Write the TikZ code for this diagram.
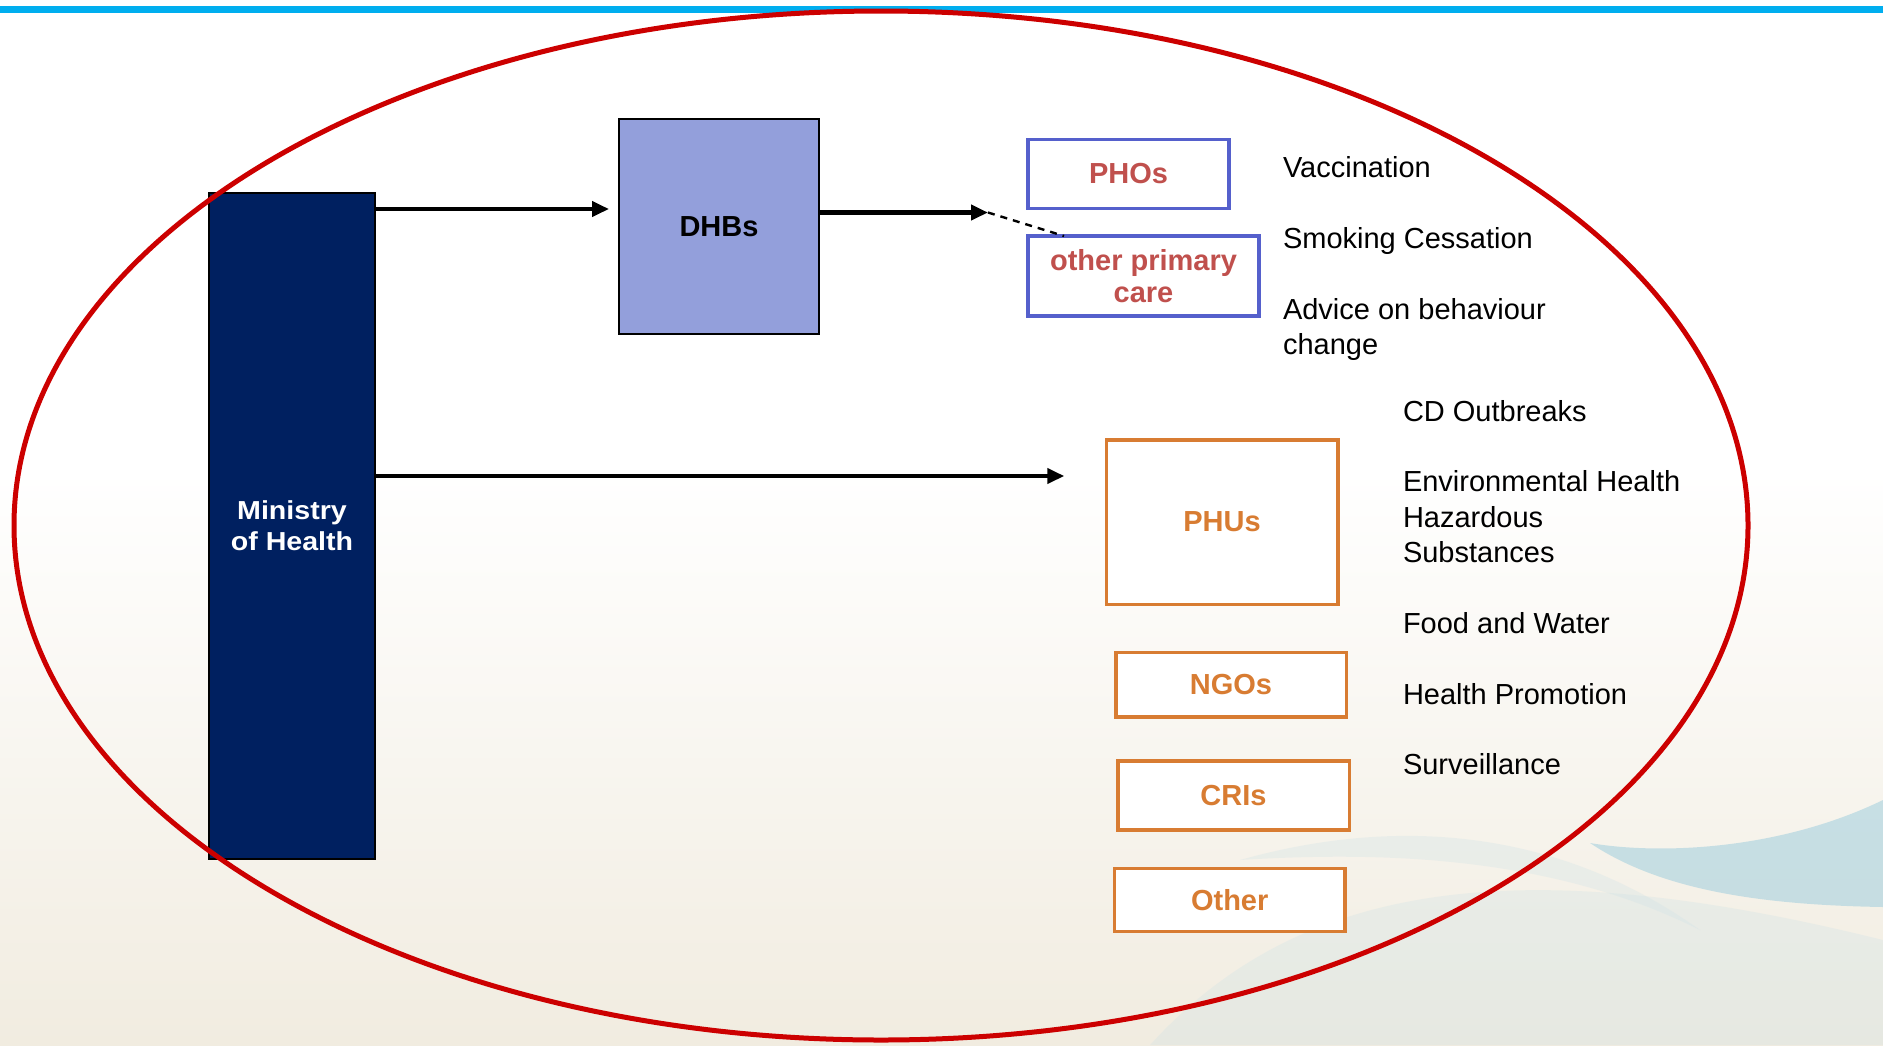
\documentclass[tikz,border=0pt]{standalone}
\usepackage{fontspec}
\setmainfont{Liberation Sans}
\newfontfamily\mohfont{Liberation Sans}[FakeStretch=1.1]
\usetikzlibrary{arrows.meta}
\definecolor{topblue}{RGB}{0,174,239}
\definecolor{ellred}{RGB}{204,0,0}
\definecolor{mohblue}{RGB}{0,32,96}
\definecolor{dhbfill}{RGB}{147,159,219}
\definecolor{phoblue}{RGB}{85,96,204}
\definecolor{phored}{RGB}{192,80,77}
\definecolor{orangeb}{RGB}{216,124,50}
\definecolor{beige}{RGB}{241,236,224}
\definecolor{wave}{RGB}{160,206,222}
\definecolor{wavefaint}{RGB}{206,226,230}
\begin{document}
\begin{tikzpicture}[x=0.5pt,y=-0.5pt,
  every node/.style={inner sep=0pt, outer sep=0pt},
  labeltext/.style={anchor=base west, align=left, font=\fontsize{14.5pt}{17.68pt}\selectfont, text=black},
  boxlabel/.style={font=\fontsize{14.5pt}{16pt}\selectfont\bfseries, align=center},
  phobox/.style={boxlabel, draw=phoblue, line width=1.6pt, fill=white, text=phored},
  orbox/.style={boxlabel, draw=orangeb, line width=1.75pt, fill=white, text=orangeb},
  arr/.style={line width=2pt, -{Triangle[length=8.5pt,width=7.5pt]}},
]
\useasboundingbox (0,0) rectangle (1883,1045);
% background
\fill[white] (0,0) rectangle (1883,1045);
\shade[top color=white, bottom color=beige] (0,470) rectangle (1883,1045);
\fill[wavefaint, opacity=0.3] (1150,1045) .. controls (1300,880) and (1520,850) .. (1883,940) -- (1883,1045) -- cycle;
\fill[wavefaint, opacity=0.3] (1240,860) .. controls (1400,815) and (1560,830) .. (1700,930) .. controls (1560,860) and (1400,850) .. cycle;
\fill[wave, opacity=0.55] (1590,843) .. controls (1660,855) and (1780,850) .. (1883,800) -- (1883,907) .. controls (1760,905) and (1660,890) .. cycle;
% top line
\fill[topblue] (0,6) rectangle (1883,13);

% boxes
\node[draw=black, line width=0.75pt, fill=mohblue, text=white, align=center,
      font=\mohfont\bfseries\fontsize{13pt}{15.5pt}\selectfont,
      minimum width=83pt, minimum height=333pt] (moh) at (292,526) {Ministry\\of Health};
\node[boxlabel, draw=black, line width=1pt, fill=dhbfill, text=black,
      minimum width=100pt, minimum height=107.5pt] (dhb) at (719,226.5) {DHBs};
\node[phobox, minimum width=100.5pt, minimum height=34.5pt] (pho) at (1128.5,174) {PHOs};
\node[phobox, minimum width=115.5pt, minimum height=40pt] (opc) at (1143.5,276) {other primary\\care};
\node[orbox, minimum width=115.75pt, minimum height=82.25pt] (phu) at (1222,522) {PHUs};
\node[orbox, minimum width=115.25pt, minimum height=32.1pt] (ngo) at (1231,684.8) {NGOs};
\node[orbox, minimum width=115.75pt, minimum height=34.4pt] (cri) at (1233.5,795.5) {CRIs};
\node[orbox, minimum width=115.45pt, minimum height=31.5pt] (oth) at (1229.7,900) {Other};

% connectors
\coordinate (dtip) at (988,212.5);
\draw[arr, shorten >=5pt] (moh.east |- 0,209) -- (dhb.west |- 0,209);
\draw[arr, line width=2.4pt] (dhb.east |- dtip) -- (dtip);
\draw[line width=1.2pt, dash pattern=on 3.5pt off 3pt] (dtip) -- (opc.north -| 1064,0);
\draw[arr, shorten >=21pt] (moh.east |- 0,476) -- (phu.west |- 0,476);

% ellipse
\draw[ellred, line width=2.5pt] (881,525.5) ellipse [x radius=433.5pt, y radius=257.25pt];

% texts (multi-line nodes anchored at the last line's baseline)
\node[labeltext] (vac) at (1283,177) {Vaccination};
\node[labeltext] (smk) at (1283,248) {Smoking Cessation};
\node[labeltext] (adv) at (1283,354.4) {Advice on behaviour\\change};
\node[labeltext] (cdo) at (1403,421) {CD Outbreaks};
\node[labeltext] (env) at (1403,562.7) {Environmental Health\\Hazardous\\Substances};
\node[labeltext] (fw) at (1403,633) {Food and Water};
\node[labeltext] (hp) at (1403,704) {Health Promotion};
\node[labeltext] (sur) at (1403,774.5) {Surveillance};
\end{tikzpicture}
\end{document}
